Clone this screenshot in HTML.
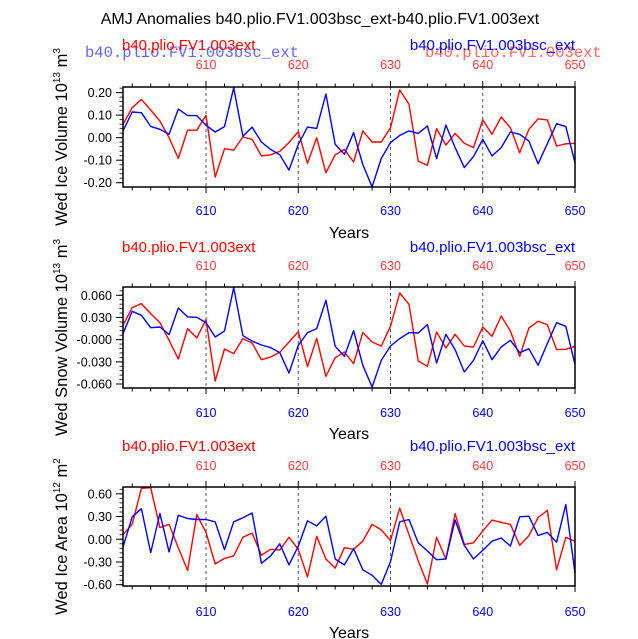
<!DOCTYPE html>
<html><head><meta charset="utf-8"><style>
html,body{margin:0;padding:0;background:#fff;}
svg{display:block;font-family:"Liberation Sans",sans-serif;}
</style></head><body>
<svg id="chart" width="638" height="639" viewBox="0 0 638 639" xmlns="http://www.w3.org/2000/svg">
<text x="320" y="24" text-anchor="middle" font-size="16">AMJ Anomalies b40.plio.FV1.003bsc_ext-b40.plio.FV1.003ext</text>
<text x="85" y="57" font-family="Liberation Mono,monospace" font-size="15.5" fill="#6666ff">b40.plio.FV1.003bsc_ext</text>
<text x="425" y="57" font-family="Liberation Mono,monospace" font-size="15.5" fill="#ff6666">b40.plio.FV1.003ext</text>
</svg>
<script>
const years = [];
for (let y = 601; y <= 650; y++) years.push(y);
const xTicks = [610, 620, 630, 640, 650];

const iceVolRed = [.059,.133,.170,.123,.074,0,-.092,.033,.033,.099,-.175,-.049,-.055,.003,-.007,-.081,-.076,-.061,-.022,.027,-.114,0,-.156,-.076,-.052,-.108,.030,-.019,-.019,.044,.212,.148,-.104,-.123,.040,-.033,.019,-.025,-.044,.079,.015,.092,.044,-.067,.037,.084,.079,-.037,-.027,-.025];
const iceVolBlue = [.030,.114,.111,.050,.037,.015,.127,.098,.098,.055,.025,.049,.222,.006,.047,-.019,-.052,-.076,-.144,-.030,.047,.041,.194,-.030,-.074,.022,-.119,-.218,-.092,-.022,.010,.030,.019,.052,-.093,.056,-.044,-.133,-.084,-.007,-.081,-.044,.025,.015,-.015,-.116,-.027,.062,.049,-.111];
const snowRed = [.0194,.0433,.0487,.0352,.0230,-.0009,-.0262,.0149,.0023,.0271,-.0559,-.0126,-.0189,.0014,-.0045,-.0271,-.0235,-.0171,-.0032,.0108,-.0365,.0018,-.0496,-.0244,-.0167,-.0325,.0095,-.0032,-.0086,.0180,.0631,.0478,-.0289,-.0361,.0104,-.0113,.0072,-.0086,-.0099,.0171,.0045,.0320,.0117,-.0226,.0158,.0248,.0203,-.0135,-.0131,-.0090];
const snowBlue = [.0081,.0383,.0329,.0162,.0171,.0068,.0428,.0307,.0302,.0230,.0036,.0117,.0704,.0054,-.0018,-.0072,-.0108,-.0176,-.0451,-.0077,.0095,.0149,.0532,-.0090,-.0226,.0122,-.0347,-.0640,-.0280,-.0086,.0014,.0095,.0090,.0203,-.0316,.0072,-.0135,-.0437,-.0280,-.0014,-.0271,-.0099,-.0009,-.0176,-.0122,-.0347,-.0054,.0230,.0180,-.0338];
const areaRed = [.060,.197,.673,.681,.154,.197,-.111,-.411,.326,.090,-.326,-.253,-.219,.026,.081,-.210,-.133,-.141,.026,-.133,-.497,.039,-.261,-.381,-.111,-.133,-.026,.197,.124,-.017,.411,.060,-.283,-.591,.026,-.261,.339,-.069,-.047,.111,.253,.223,.197,-.081,.047,.287,.381,-.403,.026,-.026];
const areaBlue = [-.103,.296,.403,-.176,.339,-.167,.317,.274,.261,.261,.231,-.137,.231,.283,.347,-.317,-.219,-.060,-.339,-.090,.244,.176,.304,-.261,-.339,-.124,-.403,-.476,-.596,-.296,.231,.261,-.047,-.154,-.270,-.261,.253,-.081,-.261,-.146,-.026,.017,-.090,.296,.304,.051,.090,-.039,.459,-.446];

const iceTicks = [0.2, 0.1, 0, -0.1, -0.2];
const iceTickLabels = ["0.20","0.10","0.00","-0.10","-0.20"];
const snowTicks = [0.06, 0.03, 0, -0.03, -0.06];
const snowTickLabels = ["0.060","0.030","-0.000","-0.030","-0.060"];
const areaTicks = [0.6, 0.3, 0, -0.3, -0.6];
const areaTickLabels = ["0.60","0.30","0.00","-0.30","-0.60"];

const NS = "http://www.w3.org/2000/svg";
const svg = document.getElementById("chart");
function mk(tag, attrs, parent) {
  const e = document.createElementNS(NS, tag);
  for (const k in attrs) e.setAttribute(k, attrs[k]);
  (parent || svg).appendChild(e);
  return e;
}
const X0 = 123, X1 = 575;
const xScale = yr => X0 + (yr - 601) / (650 - 601) * (X1 - X0);

const panels = [
  {key:"ice-volume", top:87, bot:187, ymin:-0.219, ymax:0.225, minor:0.02, red:iceVolRed, blue:iceVolBlue, ticks:iceTicks, labels:iceTickLabels, title:["Wed Ice Volume 10","13"," m","3"], nameY:50, topLblY:69, botLblY:215, yearsY:238},
  {key:"snow-volume", top:287, bot:388, ymin:-0.0654, ymax:0.0712, minor:0.006, red:snowRed, blue:snowBlue, ticks:snowTicks, labels:snowTickLabels, title:["Wed Snow Volume 10","13"," m","3"], nameY:252, topLblY:270, botLblY:417, yearsY:439},
  {key:"ice-area", top:487, bot:586, ymin:-0.617, ymax:0.69, minor:0.06, red:areaRed, blue:areaBlue, ticks:areaTicks, labels:areaTickLabels, title:["Wed Ice Area 10","12"," m","2"], nameY:451, topLblY:470, botLblY:616, yearsY:638}
];

panels.forEach(p => {
  const g = mk("g", {});
  
  
  const ys = v => p.bot - (v - p.ymin) / (p.ymax - p.ymin) * (p.bot - p.top);
  // dashed gridlines
  [610,620,630,640].forEach(yr => {
    const l = mk("line", {x1:xScale(yr), x2:xScale(yr), y1:p.top, y2:p.bot, stroke:"#555", "stroke-width":1, "stroke-dasharray":"3,3"}, g);
    
    
  });
  // series
  [["red", p.red, "#ff0000"], ["blue", p.blue, "#0000ff"]].forEach(s => {
    const pts = s[1].map((v, i) => xScale(years[i]).toFixed(1) + "," + ys(v).toFixed(1)).join(" ");
    const pl = mk("polyline", {points:pts, fill:"none", stroke:s[2], "stroke-width":1.4, "stroke-linejoin":"round"}, g);
    
    
  });
  // frame
  const fr = mk("rect", {x:X0, y:p.top, width:X1-X0, height:p.bot-p.top, fill:"none", stroke:"#000", "stroke-width":1.5}, g);
  
  
  // x ticks top & bottom
  for (let yr = 602; yr <= 650; yr += 2) {
    const major = yr % 10 === 0;
    const len = major ? 6 : 3.5;
    mk("line", {x1:xScale(yr), x2:xScale(yr), y1:p.top, y2:p.top-len, stroke:"#000", "stroke-width":1}, g);
    mk("line", {x1:xScale(yr), x2:xScale(yr), y1:p.bot, y2:p.bot+len, stroke:"#000", "stroke-width":1}, g);
  }
  xTicks.forEach(yr => {
    const t1 = mk("text", {x:xScale(yr), y:p.topLblY, "text-anchor":"middle", "font-size":12.5, fill:"#ff4040"}, g);
    t1.textContent = yr;
    
    
    const t2 = mk("text", {x:xScale(yr), y:p.botLblY, "text-anchor":"middle", "font-size":12.5, fill:"#0000ff"}, g);
    t2.textContent = yr;
    
    
  });
  // y minor ticks
  for (let v = Math.ceil(p.ymin / p.minor) * p.minor; v <= p.ymax; v += p.minor) {
    mk("line", {x1:X0, x2:X0-3.5, y1:ys(v), y2:ys(v), stroke:"#000", "stroke-width":0.8}, g);
  }
  p.ticks.forEach((v, i) => {
    mk("line", {x1:X0, x2:X0-7, y1:ys(v), y2:ys(v), stroke:"#000", "stroke-width":1}, g);
    const t = mk("text", {x:X0-11, y:ys(v)+4.5, "text-anchor":"end", "font-size":12.5}, g);
    t.textContent = p.labels[i];
    
    
  });
  // y axis title
  const cy = (p.top + p.bot) / 2;
  const yt = mk("text", {x:0, y:0, transform:`translate(67,${cy}) rotate(-90)`, "text-anchor":"middle", "font-size":16.5}, g);
  
  
  const tp = [p.title[0], p.title[1], p.title[2], p.title[3]];
  tp.forEach((s, i) => {
    const ts = mk("tspan", i % 2 ? {"font-size":10, dy:-7} : (i ? {dy:7} : {}), yt);
    ts.textContent = s;
  });
  // names
  const nr = mk("text", {x:122, y:p.nameY, "font-size":15, fill:"#ff0000"}, g);
  nr.textContent = "b40.plio.FV1.003ext";
  
  
  const nb = mk("text", {x:575, y:p.nameY, "text-anchor":"end", "font-size":15, fill:"#0000ff"}, g);
  nb.textContent = "b40.plio.FV1.003bsc_ext";
  
  
  const yr = mk("text", {x:349, y:p.yearsY, "text-anchor":"middle", "font-size":16}, g);
  yr.textContent = "Years";
  
  
});
</script>
</body></html>
